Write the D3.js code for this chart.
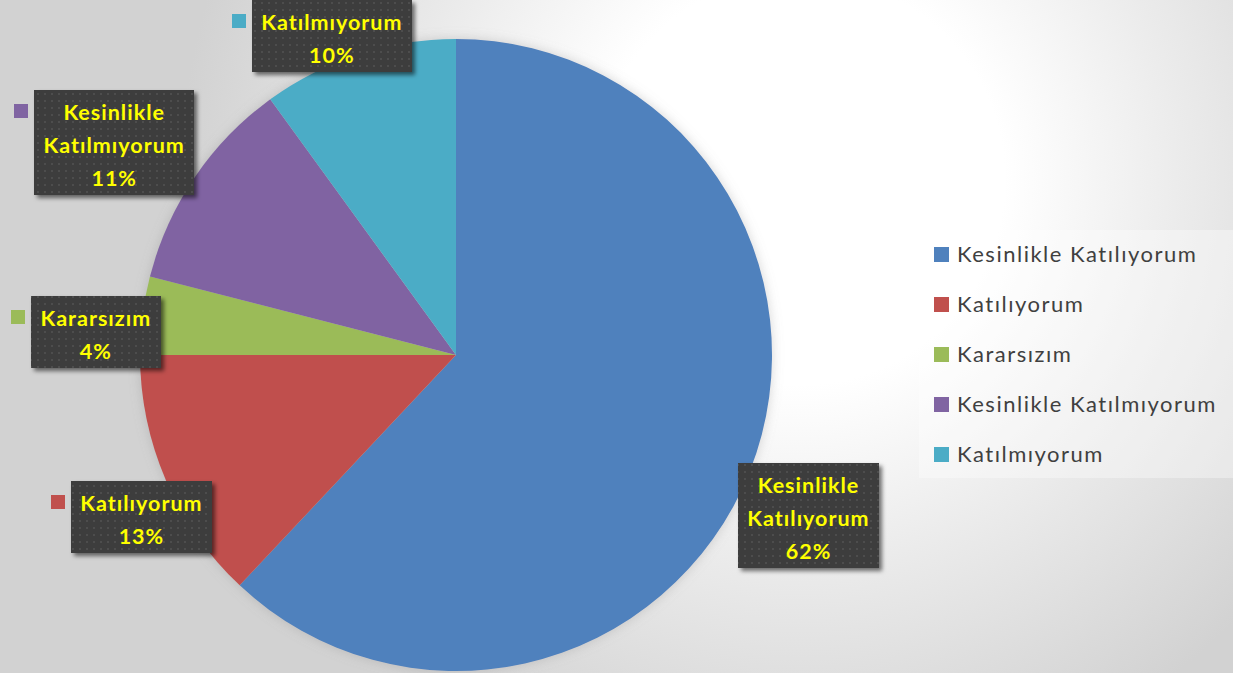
<!DOCTYPE html>
<html>
<head>
<meta charset="utf-8">
<script src="https://cdn.jsdelivr.net/npm/d3@7"></script>
<style>
  body { margin: 0; overflow: hidden; }
  svg { display: block; }
</style>
</head>
<body>
<div class="chart-container"></div>
<script>
// Survey answers and their share (percent)
const categories = ['Kesinlikle Katılıyorum', 'Katılıyorum', 'Kararsızım', 'Kesinlikle Katılmıyorum', 'Katılmıyorum'];
const values = [62, 13, 4, 11, 10];
const colors = ['#4F81BD', '#C0504D', '#9BBB59', '#8064A2', '#4BACC6'];

const width = 1233;
const height = 673;
const center = {x: 456, y: 355};
const radius = 316;

// Manual label nudges, like labels dragged by hand in the original
const labelNudge = [[3, 22], [25, 15], [-3, 22], [-22, 5], [-16, 0]];

const data = categories.map((c, i) => ({category: c, value: values[i], color: colors[i]}));
const total = d3.sum(values);
const pct = d3.format('.0%');

const svg = d3.select('.chart-container')
  .append('svg')
  .attr('width', width)
  .attr('height', height);

const defs = svg.append('defs');

// Slide-like background: light spot near the top, greyer at the edges
const bg = defs.append('radialGradient')
  .attr('id', 'bg')
  .attr('gradientUnits', 'userSpaceOnUse')
  .attr('cx', 800).attr('cy', 180).attr('r', 620);
bg.append('stop').attr('offset', '0').attr('stop-color', '#ffffff');
bg.append('stop').attr('offset', '0.33').attr('stop-color', '#ffffff');
bg.append('stop').attr('offset', '0.62').attr('stop-color', '#ebebeb');
bg.append('stop').attr('offset', '1').attr('stop-color', '#d2d2d2');

// Dotted dark texture of the data label boxes
const dots = defs.append('pattern')
  .attr('id', 'dots')
  .attr('patternUnits', 'userSpaceOnUse')
  .attr('width', 7).attr('height', 7);
dots.append('rect').attr('width', 7).attr('height', 7).attr('fill', '#3c3c3c');
dots.append('rect').attr('x', 2).attr('y', 2).attr('width', 2).attr('height', 2).attr('fill', '#4e4e4e');

const shadow = defs.append('filter').attr('id', 'shadow')
  .attr('x', '-20%').attr('y', '-20%').attr('width', '140%').attr('height', '140%');
shadow.append('feDropShadow')
  .attr('dx', 3).attr('dy', 3).attr('stdDeviation', 2)
  .attr('flood-color', '#000').attr('flood-opacity', 0.55);

const glow = defs.append('filter').attr('id', 'glow')
  .attr('x', '-20%').attr('y', '-20%').attr('width', '140%').attr('height', '140%');
glow.append('feDropShadow')
  .attr('dx', 0).attr('dy', 0).attr('stdDeviation', 6)
  .attr('flood-color', '#888').attr('flood-opacity', 0.35);

svg.append('rect')
  .attr('width', width)
  .attr('height', height)
  .attr('fill', 'url(#bg)');

// Pie, starting at 12 o'clock and going clockwise
const pie = d3.pie().sort(null).value(d => d.value);
const arc = d3.arc().innerRadius(0).outerRadius(radius);
const arcs = pie(data);

const pieG = svg.append('g')
  .attr('transform', `translate(${center.x},${center.y})`)
  .attr('filter', 'url(#glow)');

pieG.selectAll('path')
  .data(arcs)
  .enter()
  .append('path')
  .attr('d', arc)
  .attr('fill', d => d.data.color);

// Data labels: dark box, yellow bold text, coloured key square on the left
const lineHeight = 33;
const labelFont = 'Lato, "Open Sans", sans-serif';

const labels = svg.append('g').attr('class', 'labels');

arcs.forEach((d, i) => {
  const lines = d.data.category.split(' ').concat([pct(d.data.value / total)]);
  const g = labels.append('g');
  const box = g.append('rect').attr('fill', 'url(#dots)').attr('filter', 'url(#shadow)');
  const text = g.append('text')
    .attr('fill', '#FFFF00')
    .attr('font-family', labelFont)
    .attr('font-weight', 'bold')
    .attr('font-size', 21.5)
    .attr('letter-spacing', 1)
    .attr('text-anchor', 'middle');
  lines.forEach((l, j) => {
    text.append('tspan').attr('x', 0).attr('y', j * lineHeight).text(l);
  });

  const textW = d3.max(text.selectAll('tspan').nodes(), n => n.getComputedTextLength());
  const w = Math.round(textW + 19);
  const h = lines.length * lineHeight + 6;

  // push the box outward along the middle angle of its slice
  const mid = (d.startAngle + d.endAngle) / 2;
  const dx = Math.sin(mid), dy = -Math.cos(mid);
  const extent = Math.abs(dx) * w / 2 + Math.abs(dy) * h / 2;
  const dist = radius - 25 + extent;
  let cx = center.x + dx * dist;
  let cy = center.y + dy * dist;
  cy = Math.max(cy, h / 2);
  cx += labelNudge[i][0];
  cy += labelNudge[i][1];

  const left = Math.round(cx - w / 2), top = Math.round(cy - h / 2);
  box.attr('x', left).attr('y', top).attr('width', w).attr('height', h);
  text.attr('transform', `translate(${cx},${top + 30})`);

  // key square next to the box
  g.append('rect')
    .attr('x', left - 20).attr('y', top + 14)
    .attr('width', 14).attr('height', 14)
    .attr('fill', d.data.color);
});

// Legend
const legend = svg.append('g').attr('transform', 'translate(919,230)');
legend.append('rect')
  .attr('width', width - 919)
  .attr('height', 248)
  .attr('fill', '#ffffff')
  .attr('fill-opacity', 0.35);

const item = legend.selectAll('.item')
  .data(data)
  .enter()
  .append('g')
  .attr('class', 'item')
  .attr('transform', (d, i) => `translate(15,${24 + i * 50})`);

item.append('rect')
  .attr('y', -7)
  .attr('width', 15)
  .attr('height', 15)
  .attr('fill', d => d.color);

item.append('text')
  .attr('x', 23)
  .attr('y', 8)
  .attr('fill', '#404040')
  .attr('font-family', labelFont)
  .attr('font-size', 22)
  .attr('letter-spacing', 1.5)
  .text(d => d.category);
</script>
</body>
</html>
